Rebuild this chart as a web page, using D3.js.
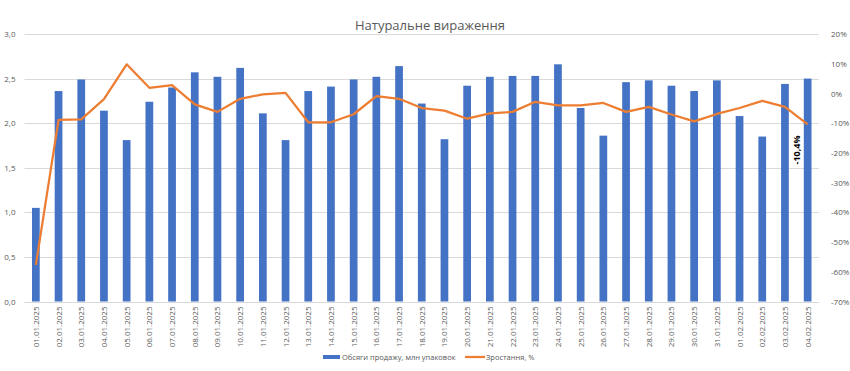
<!DOCTYPE html>
<html>
<head>
<meta charset="utf-8">
<script src="https://cdn.jsdelivr.net/npm/d3@7"></script>
<style>
  body { margin: 0; background: #fff; }
  text { font-family: "Open Sans", "Noto Sans", sans-serif; fill: #595959; }
</style>
</head>
<body>
<script>
var width = 850,
    height = 371;

var dates = ["01.01.2025","02.01.2025","03.01.2025","04.01.2025","05.01.2025","06.01.2025","07.01.2025",
  "08.01.2025","09.01.2025","10.01.2025","11.01.2025","12.01.2025","13.01.2025","14.01.2025","15.01.2025",
  "16.01.2025","17.01.2025","18.01.2025","19.01.2025","20.01.2025","21.01.2025","22.01.2025","23.01.2025",
  "24.01.2025","25.01.2025","26.01.2025","27.01.2025","28.01.2025","29.01.2025","30.01.2025","31.01.2025",
  "01.02.2025","02.02.2025","03.02.2025","04.02.2025"];

// обсяги продажу, млн упаковок
var volumes = [1.05, 2.36, 2.49, 2.14, 1.81, 2.24, 2.40, 2.57, 2.52, 2.62, 2.11, 1.81, 2.36, 2.41, 2.49,
  2.52, 2.64, 2.22, 1.82, 2.42, 2.52, 2.53, 2.53, 2.66, 2.17, 1.86, 2.46, 2.48, 2.42, 2.36, 2.48,
  2.08, 1.85, 2.44, 2.50];

// зростання, %
var growth = [-57.7, -8.9, -8.7, -1.9, 9.8, 1.9, 2.8, -3.7, -6.2, -1.8, -0.3, 0.2, -9.7, -9.7, -7.0,
  -0.9, -1.8, -4.9, -5.8, -8.5, -6.7, -6.2, -2.8, -4.0, -4.0, -3.2, -6.2, -4.5, -7.1, -9.4, -6.9,
  -4.9, -2.5, -4.5, -10.4];

var leftTicks = [0, 0.5, 1, 1.5, 2, 2.5, 3];
var rightTicks = [-70, -60, -50, -40, -30, -20, -10, 0, 10, 20];

var title = "Натуральне вираження";
var seriesNames = ["Обсяги продажу, млн упаковок", "Зростання, %"];

var plotTop = 34, plotBottom = 301.5, plotLeft = 24.5, plotRight = 819;

var x = d3.scaleBand()
    .domain(dates)
    .range([plotLeft, plotRight])
    .padding(0);
var yL = d3.scaleLinear().domain([0, 3]).range([plotBottom, plotTop]);
var yR = d3.scaleLinear().domain([-70, 20]).range([plotBottom, plotTop]);

var fmtL = function(d) { return d3.format(".1f")(d).replace(".", ","); };

var svg = d3.select("body").append("svg")
    .attr("width", width)
    .attr("height", height);

// title
svg.append("text")
    .attr("x", 430)
    .attr("y", 30)
    .attr("text-anchor", "middle")
    .style("font-size", "13px")
    .text(title);

// gridlines
svg.append("g")
  .selectAll("line")
    .data(leftTicks)
  .enter().append("line")
    .attr("x1", plotLeft)
    .attr("x2", plotRight)
    .attr("y1", function(d) { return Math.round(yL(d)) + 0.5; })
    .attr("y2", function(d) { return Math.round(yL(d)) + 0.5; })
    .attr("stroke", "#d9d9d9")
    .attr("stroke-width", 1);

// left axis
var axL = svg.append("g")
    .attr("transform", "translate(" + (plotLeft - 6) + ",0)")
    .call(d3.axisLeft(yL).tickValues(leftTicks).tickFormat(fmtL).tickSize(0));
axL.select(".domain").remove();
axL.selectAll("text").style("font-size", "8px").attr("dy", "0.32em");

// right axis
var axR = svg.append("g")
    .attr("transform", "translate(" + (plotRight + 9) + ",0)")
    .call(d3.axisRight(yR).tickValues(rightTicks).tickFormat(function(d) { return d + "%"; }).tickSize(0));
axR.select(".domain").remove();
axR.selectAll("text").style("font-size", "8px").attr("dy", "0.32em");

// bars
var bw = x.bandwidth() * 0.34;
svg.append("g")
  .selectAll("rect")
    .data(volumes)
  .enter().append("rect")
    .attr("x", function(d, i) { return x(dates[i]) + x.bandwidth() / 2 - bw / 2; })
    .attr("y", function(d) { return yL(d); })
    .attr("width", bw)
    .attr("height", function(d) { return yL(0) - yL(d); })
    .attr("fill", "#4472c4");

// x labels
svg.append("g")
  .selectAll("text")
    .data(dates)
  .enter().append("text")
    .attr("transform", function(d) {
      return "translate(" + (x(d) + x.bandwidth() / 2 + 3) + "," + (plotBottom + 5) + ") rotate(-90)";
    })
    .attr("text-anchor", "end")
    .style("font-size", "8px")
    .text(function(d) { return d; });

// growth line
var line = d3.line()
    .x(function(d, i) { return x(dates[i]) + x.bandwidth() / 2; })
    .y(function(d) { return yR(d); });
svg.append("path")
    .datum(growth)
    .attr("d", line)
    .attr("fill", "none")
    .attr("stroke", "#ed7d31")
    .attr("stroke-width", 2.25)
    .attr("stroke-linejoin", "round");

// label of the last point
var last = growth.length - 1;
svg.append("text")
    .attr("transform", "translate(" + (x(dates[last]) + 4) + "," + 150 + ") rotate(-90)")
    .attr("text-anchor", "middle")
    .style("font-size", "9px")
    .style("font-weight", "bold")
    .style("fill", "#000")
    .text(d3.format(".1f")(growth[last]).replace(".", ",").replace("−", "-") + "%");

// legend
var lg = svg.append("g").attr("transform", "translate(0,357)");
lg.append("rect")
    .attr("x", 323).attr("y", -2)
    .attr("width", 17).attr("height", 4)
    .attr("fill", "#4472c4");
lg.append("text")
    .attr("x", 342).attr("y", 0).attr("dy", "0.35em")
    .style("font-size", "7.5px")
    .text(seriesNames[0]);
lg.append("line")
    .attr("x1", 465).attr("x2", 485)
    .attr("y1", 0).attr("y2", 0)
    .attr("stroke", "#ed7d31")
    .attr("stroke-width", 2.25);
lg.append("text")
    .attr("x", 486).attr("y", 0).attr("dy", "0.35em")
    .style("font-size", "7.5px")
    .text(seriesNames[1]);
</script>
</body>
</html>
